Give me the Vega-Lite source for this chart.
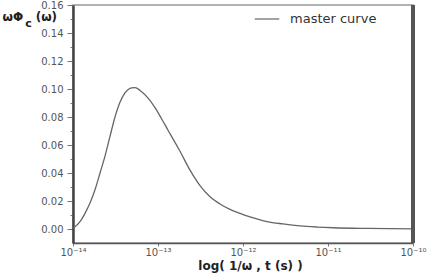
{
  "$schema": "https://vega.github.io/schema/vega-lite/v6.json",
  "width": 340,
  "height": 238,
  "autosize": {"type": "none"},
  "padding": {"left": 73, "top": 5, "right": 23, "bottom": 30},
  "background": "white",
  "config": {
    "font": "DejaVu Sans",
    "view": {"stroke": "#999", "strokeWidth": 1.5}
  },
  "data": {
    "values": [
      {"t": 1e-14, "v": 0.0008, "s": "master curve"},
      {"t": 1.056e-14, "v": 0.0016, "s": "master curve"},
      {"t": 1.208e-14, "v": 0.0052, "s": "master curve"},
      {"t": 1.384e-14, "v": 0.0112, "s": "master curve"},
      {"t": 1.585e-14, "v": 0.0185, "s": "master curve"},
      {"t": 1.815e-14, "v": 0.028, "s": "master curve"},
      {"t": 2.08e-14, "v": 0.040, "s": "master curve"},
      {"t": 2.38e-14, "v": 0.052, "s": "master curve"},
      {"t": 2.72e-14, "v": 0.066, "s": "master curve"},
      {"t": 3.12e-14, "v": 0.080, "s": "master curve"},
      {"t": 3.57e-14, "v": 0.0905, "s": "master curve"},
      {"t": 4.09e-14, "v": 0.0972, "s": "master curve"},
      {"t": 4.9e-14, "v": 0.1008, "s": "master curve"},
      {"t": 5.36e-14, "v": 0.1010, "s": "master curve"},
      {"t": 6.43e-14, "v": 0.0980, "s": "master curve"},
      {"t": 7.69e-14, "v": 0.0933, "s": "master curve"},
      {"t": 9.22e-14, "v": 0.0867, "s": "master curve"},
      {"t": 1.105e-13, "v": 0.0786, "s": "master curve"},
      {"t": 1.322e-13, "v": 0.0702, "s": "master curve"},
      {"t": 1.585e-13, "v": 0.0619, "s": "master curve"},
      {"t": 1.815e-13, "v": 0.0555, "s": "master curve"},
      {"t": 2.38e-13, "v": 0.042, "s": "master curve"},
      {"t": 3.12e-13, "v": 0.031, "s": "master curve"},
      {"t": 4.09e-13, "v": 0.023, "s": "master curve"},
      {"t": 5.36e-13, "v": 0.0179, "s": "master curve"},
      {"t": 7.03e-13, "v": 0.014, "s": "master curve"},
      {"t": 9.22e-13, "v": 0.0112, "s": "master curve"},
      {"t": 1.21e-12, "v": 0.0087, "s": "master curve"},
      {"t": 1.92e-12, "v": 0.0053, "s": "master curve"},
      {"t": 2.96e-12, "v": 0.0036, "s": "master curve"},
      {"t": 4.69e-12, "v": 0.0022, "s": "master curve"},
      {"t": 7.42e-12, "v": 0.0014, "s": "master curve"},
      {"t": 1.15e-11, "v": 0.0009, "s": "master curve"},
      {"t": 2.88e-11, "v": 0.0004, "s": "master curve"},
      {"t": 1e-10, "v": 0.0001, "s": "master curve"}
    ]
  },
  "resolve": {"axis": {"x": "independent"}},
  "layer": [
    {
      "mark": {"type": "line", "interpolate": "monotone", "strokeWidth": 1.3, "clip": true},
      "encoding": {
        "x": {
          "field": "t",
          "type": "quantitative",
          "scale": {"type": "log", "domain": [1e-14, 1e-10], "nice": false},
          "axis": {
            "orient": "bottom",
            "values": [1e-14, 1e-13, 1e-12, 1e-11, 1e-10],
            "labelExpr": "['10⁻¹⁴','10⁻¹³','10⁻¹²','10⁻¹¹','10⁻¹⁰'][round(log(datum.value)/LN10)+14]",
            "labelFontSize": 10,
            "labelColor": "#555",
            "labelFlush": false,
            "tickSize": 3,
            "tickColor": "#777",
            "domainColor": "#555",
            "domainWidth": 1.5,
            "grid": false,
            "labelPadding": 1,
            "title": "log( 1/ω , t (s) )",
            "titleFontSize": 12,
            "titleFontWeight": "bold",
            "titleColor": "#222",
            "titlePadding": 3,
            "titleX": 177
          }
        },
        "y": {
          "field": "v",
          "type": "quantitative",
          "scale": {"domain": [-0.01, 0.16], "nice": false, "zero": false},
          "axis": {
            "values": [0, 0.01, 0.02, 0.03, 0.04, 0.05, 0.06, 0.07, 0.08, 0.09, 0.1, 0.11, 0.12, 0.13, 0.14, 0.15, 0.16],
            "labelExpr": "round(datum.value*100) % 2 == 0 ? format(datum.value, '.2f') : ''",
            "tickSize": {"expr": "round(datum.value*100) % 2 == 0 ? 6 : 3"},
            "tickColor": "#777",
            "labelFontSize": 10,
            "labelColor": "#555",
            "labelPadding": 4,
            "domainColor": "#444",
            "domainWidth": 2.5,
            "grid": false,
            "title": "ωΦ\u00a0\u00a0\u00a0(ω)",
            "titleAngle": 0,
            "titleAlign": "left",
            "titleBaseline": "middle",
            "titleX": -71,
            "titleY": 11,
            "titleFontSize": 12,
            "titleFontWeight": "bold",
            "titleColor": "#222"
          }
        },
        "color": {
          "field": "s",
          "type": "nominal",
          "scale": {"range": ["#666666"]},
          "legend": {
            "title": null,
            "orient": "none",
            "legendX": 181,
            "legendY": 1,
            "symbolType": "stroke",
            "symbolSize": 600,
            "symbolStrokeWidth": 1.2,
            "labelFontSize": 13,
            "labelColor": "#333",
            "labelOffset": 10
          }
        }
      }
    },
    {
      "mark": {"type": "rule", "color": "#555", "strokeWidth": 3.5},
      "encoding": {
        "x": {
          "datum": 1e-10,
          "type": "quantitative",
          "axis": {
            "orient": "top",
            "values": [1e-14],
            "labelExpr": "'c'",
            "labelOffset": -45,
            "labelPadding": -21,
            "labelBaseline": "alphabetic",
            "labelFlush": false,
            "labelFontSize": 11,
            "labelFontWeight": "bold",
            "labelColor": "#222",
            "ticks": false,
            "domain": false,
            "grid": false,
            "title": null
          }
        }
      }
    }
  ]
}
